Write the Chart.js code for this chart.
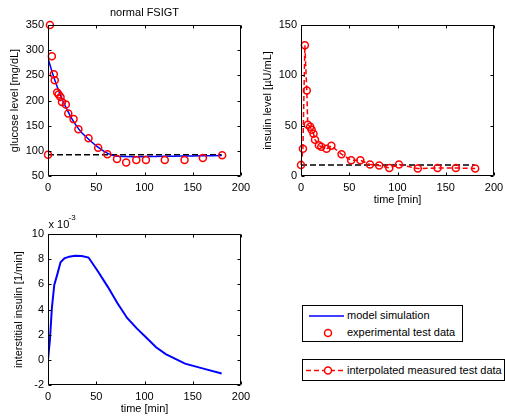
<!DOCTYPE html>
<html>
<head>
<meta charset="utf-8">
<title>normal FSIGT</title>
<script src="https://cdn.jsdelivr.net/npm/chart.js@4.4.1/dist/chart.umd.min.js"></script>
<style>
body { margin:0; background:#fff; width:505px; height:417px; overflow:hidden; position:relative; font-family:"Liberation Sans", Arial, sans-serif; }
canvas { position:absolute; }
.legend { position:absolute; border:1px solid #000; box-sizing:border-box; background:#fff; font-size:11px; color:#000; }
.legend svg { position:absolute; left:0; top:0; }
.legend span { position:absolute; left:44px; white-space:nowrap; line-height:13px; }
</style>
</head>
<body>
<canvas id="chartGlucose" width="250" height="200" style="left:0;top:0"></canvas>
<canvas id="chartInsulin" width="255" height="210" style="left:250px;top:0"></canvas>
<canvas id="chartInter" width="250" height="208" style="left:0;top:209px"></canvas>

<div class="legend" style="left:302px;top:305px;width:161px;height:37px">
  <svg width="161" height="37">
    <line x1="6" y1="10" x2="41" y2="10" stroke="#0000ff" stroke-width="1.5"/>
    <circle cx="25" cy="27" r="3.5" fill="none" stroke="#ff0000" stroke-width="1.5"/>
  </svg>
  <span style="top:3px">model simulation</span>
  <span style="top:20px">experimental test data</span>
</div>
<div class="legend" style="left:302px;top:359px;width:203px;height:22px">
  <svg width="50" height="22">
    <line x1="3" y1="10.5" x2="41" y2="10.5" stroke="#ff0000" stroke-width="1.5" stroke-dasharray="5,3"/>
    <circle cx="25" cy="10.5" r="3.5" fill="#fff" stroke="#ff0000" stroke-width="1.5"/>
  </svg>
  <span style="top:4px">interpolated measured test data</span>
</div>

<script>
// temps des prélèvements (min)
const sampleTimes = [0, 2, 4, 6, 7, 9.5, 11, 13, 14.5, 18.5, 21, 26.5, 31.5, 42, 52, 61.5, 71.5, 81, 91.5, 101.5, 121, 141.5, 160.5, 180.5];
// glucose mesuré [mg/dL]
const glucoseData = [92, 350, 288, 252, 240, 216, 212, 207, 197, 192, 174, 163, 143, 125, 106, 93, 84, 77, 82, 82, 82, 82, 86, 91];
// insuline mesurée [µU/mL]
const insulinData = [11, 27, 130, 85, 51, 49, 46, 42, 36, 30.5, 29, 27, 30, 21.6, 15.6, 15.6, 11.4, 10.4, 8, 11.4, 7.4, 8, 8, 7.4];
const glucoseBasal = 92;
const insulinBasal = 11;

// simulation du modèle
const modelTimes = [0, 5, 10, 15, 20, 25, 30, 35, 40, 45, 50, 55, 60, 65, 70, 80, 100, 120, 140, 160, 180];
const glucoseModel = [284, 252, 225, 201, 181, 163, 148, 136, 127, 118, 110, 103, 97, 92.5, 89.5, 88.5, 88.5, 89, 89.5, 90, 90.5];

// insuline interstitielle (x 10^-3, 1/min)
const interTimes = [0, 2, 4, 6.5, 9.5, 13, 17, 22, 28, 35, 42, 52, 62, 72, 82, 92, 102, 112, 122, 142, 162, 180];
const interData = [0, 1.6, 4.1, 5.95, 6.75, 7.75, 8.07, 8.2, 8.28, 8.25, 8.13, 7.0, 5.8, 4.5, 3.33, 2.5, 1.75, 1.0, 0.45, -0.3, -0.72, -1.08];

const xTicks = [0, 50, 100, 150, 200];

Chart.defaults.font.family = '"Liberation Sans", Arial, sans-serif';
Chart.defaults.font.size = 11;
Chart.defaults.color = '#000';

function pts(xs, ys) {
    return xs.map((x, i) => ({x: x, y: ys[i]}));
}

// boite + graduations vers l'intérieur, style matlab
const matlabAxes = {
    id: 'matlabAxes',
    afterDraw(chart) {
        const ctx = chart.ctx;
        const a = chart.chartArea;
        const sx = chart.scales.x, sy = chart.scales.y;
        const L = Math.round(a.left) + 0.5, R = Math.round(a.right) - 0.5;
        const T = Math.round(a.top) + 0.5, B = Math.round(a.bottom) - 0.5;
        ctx.save();
        ctx.strokeStyle = '#000';
        ctx.lineWidth = 1;
        ctx.beginPath();
        ctx.rect(L, T, R - L, B - T);
        sx.ticks.forEach(t => {
            const p = Math.round(sx.getPixelForValue(t.value)) + 0.5;
            ctx.moveTo(p, B); ctx.lineTo(p, B - 3);
            ctx.moveTo(p, T); ctx.lineTo(p, T + 3);
        });
        sy.ticks.forEach(t => {
            const p = Math.round(sy.getPixelForValue(t.value)) + 0.5;
            ctx.moveTo(L, p); ctx.lineTo(L + 3, p);
            ctx.moveTo(R, p); ctx.lineTo(R - 3, p);
        });
        ctx.stroke();
        const opts = chart.options.plugins.matlabAxes;
        ctx.fillStyle = '#000';
        if (opts.title) {
            // titre centré sur la zone du graphe
            ctx.font = '11px "Liberation Sans", Arial, sans-serif';
            ctx.textAlign = 'center';
            ctx.textBaseline = 'middle';
            ctx.fillText(opts.title, (a.left + a.right) / 2, a.top - 12);
        }
        if (opts.exponent) {
            ctx.textAlign = 'left';
            ctx.textBaseline = 'alphabetic';
            ctx.font = '11px "Liberation Sans", Arial, sans-serif';
            ctx.fillText('x 10', L, a.top - 6);
            ctx.font = '8px "Liberation Sans", Arial, sans-serif';
            ctx.fillText(opts.exponent, L + 20, a.top - 14);
        }
        ctx.restore();
    }
};

function xScale(h, title, titlePad) {
    return {
        type: 'linear', min: 0, max: 200,
        afterBuildTicks: s => { s.ticks = xTicks.map(v => ({value: v})); },
        ticks: {padding: 5, maxRotation: 0},
        grid: {display: false, drawTicks: false},
        border: {display: false},
        title: {display: !!title, text: title, font: {size: 11, lineHeight: 1}, padding: {top: 0, bottom: titlePad}},
        afterFit: s => { s.height = h; s.paddingLeft = 0; s.paddingRight = 0; }
    };
}

function yScale(w, min, max, step, title, titlePad) {
    return {
        type: 'linear', min: min, max: max,
        ticks: {stepSize: step, padding: 4},
        grid: {display: false, drawTicks: false},
        border: {display: false},
        title: {display: true, text: title, font: {size: 11, lineHeight: 1}, padding: {top: titlePad, bottom: 0}},
        afterFit: s => { s.width = w; s.paddingTop = 0; s.paddingBottom = 0; }
    };
}

function baseOptions(padRight, scales, axesOpts) {
    return {
        responsive: false,
        animation: false,
        events: [],
        layout: {padding: {top: 25, right: padRight, left: 0, bottom: 0}},
        scales: scales,
        plugins: {legend: {display: false}, tooltip: {enabled: false}, matlabAxes: axesOpts || {}}
    };
}

// glucose
new Chart(document.getElementById('chartGlucose'), {
    type: 'line',
    data: {datasets: [
        {data: pts(sampleTimes, glucoseData), showLine: false, pointStyle: 'circle', pointRadius: 3.5,
         pointBorderColor: '#ff0000', pointBackgroundColor: 'rgba(0,0,0,0)', pointBorderWidth: 1.5, clip: false},
        {data: pts(modelTimes, glucoseModel), borderColor: '#0000ff', borderWidth: 1.5, pointRadius: 0, tension: 0.3, fill: false},
        {data: pts([sampleTimes[0], 180], [glucoseBasal, glucoseBasal]), borderColor: '#000', borderWidth: 1.5,
         borderDash: [6, 3], pointRadius: 0, fill: false}
    ]},
    options: baseOptions(9, {x: xScale(24), y: yScale(48, 50, 350, 50, 'glucose level [mg/dL]', 9.5)},
        {title: 'normal FSIGT'}),
    plugins: [matlabAxes]
});

// insuline
new Chart(document.getElementById('chartInsulin'), {
    type: 'line',
    data: {datasets: [
        {data: pts(sampleTimes, insulinData), borderColor: '#ff0000', borderWidth: 1.5, borderDash: [5, 3],
         pointStyle: 'circle', pointRadius: 3.5, pointBorderColor: '#ff0000', pointBackgroundColor: 'rgba(0,0,0,0)',
         pointBorderWidth: 1.5, tension: 0, fill: false, clip: false},
        {data: pts([sampleTimes[0], 180], [insulinBasal, insulinBasal]), borderColor: '#000', borderWidth: 1.5,
         borderDash: [6, 3], pointRadius: 0, fill: false}
    ]},
    options: baseOptions(11, {x: xScale(34, 'time [min]', 5), y: yScale(51, 0, 150, 50, 'insulin level [\u00b5U/mL]', 12.5)}),
    plugins: [matlabAxes]
});

// insuline interstitielle
new Chart(document.getElementById('chartInter'), {
    type: 'line',
    data: {datasets: [
        {data: pts(interTimes, interData), borderColor: '#0000ff', borderWidth: 2, pointRadius: 0, tension: 0, fill: false}
    ]},
    options: baseOptions(9, {x: xScale(32, 'time [min]', 3), y: yScale(48, -2, 10, 2, 'interstitial insulin [1/min]', 13.5)},
        {exponent: '-3'}),
    plugins: [matlabAxes]
});
</script>
</body>
</html>
